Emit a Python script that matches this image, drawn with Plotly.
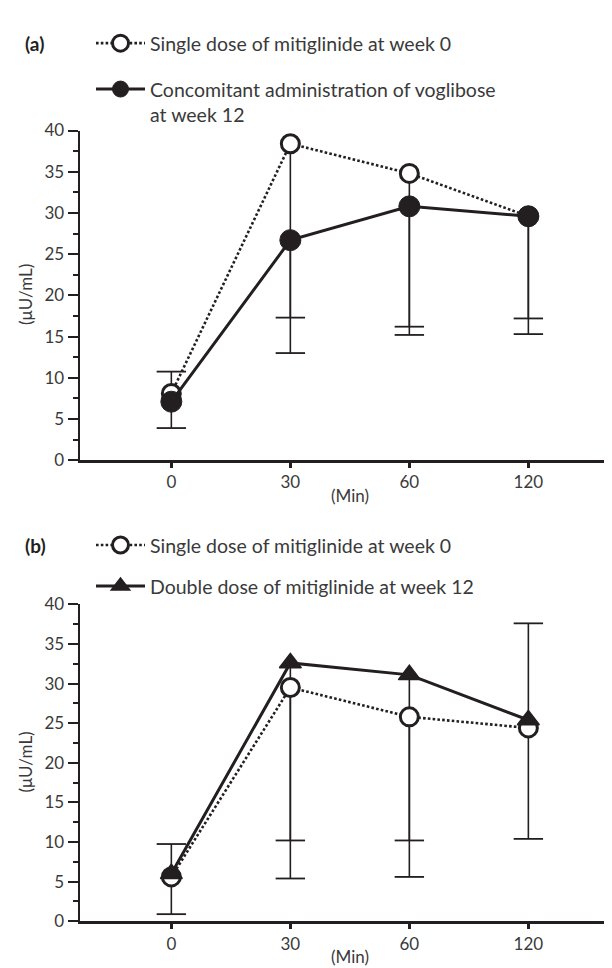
import plotly.graph_objects as go

# ---------------- data ----------------
times = ["0", "30", "60", "120"]

# Panel (a)
a_week0 = [8.1, 38.4, 34.8, 29.6]
a_week0_err_up = [2.65, 0, 0, 0]
a_week0_err_down = [0, 25.4, 19.6, 14.3]
a_vog = [7.1, 26.7, 30.8, 29.6]
a_vog_err_up = [0, 0, 0, 0]
a_vog_err_down = [3.2, 9.4, 14.6, 12.4]

# Panel (b)
b_week0 = [5.6, 29.5, 25.8, 24.4]
b_week0_err_up = [0, 0, 0, 0]
b_week0_err_down = [4.7, 19.3, 15.6, 14.0]
b_double = [6.0, 32.6, 31.1, 25.4]
b_double_err_up = [3.75, 0, 0, 12.2]
b_double_err_down = [0, 27.2, 25.5, 0]

y_tickvals = [0, 5, 10, 15, 20, 25, 30, 35, 40]

name_week0 = "Single dose of mitiglinide at week 0"
name_vog = "Concomitant administration of voglibose<br>at week 12"
name_double = "Double dose of mitiglinide at week 12"

# ---------------- style ----------------
INK = "#231f20"
TXT = "#3a3a3a"
FONT = "Lato"
W, H = 612, 968

fig = go.Figure()


def px_x(p):
    return p / W


def px_y(p):
    return 1 - p / H


def add_errors(vals, up, down, xa, ya):
    fig.add_trace(go.Scatter(
        x=times, y=vals, mode="markers", xaxis=xa, yaxis=ya,
        marker=dict(size=2, opacity=0), showlegend=False, hoverinfo="skip",
        cliponaxis=False,
        error_y=dict(type="data", symmetric=False, array=up, arrayminus=down,
                     width=0, thickness=1.6, color=INK)))
    cx, cy = [], []
    for t, v, u, d in zip(times, vals, up, down):
        if d > 0:
            cx.append(t)
            cy.append(v - d)
        if u > 0:
            cx.append(t)
            cy.append(v + u)
    fig.add_trace(go.Scatter(
        x=cx, y=cy, mode="markers", xaxis=xa, yaxis=ya, showlegend=False,
        hoverinfo="skip", cliponaxis=False,
        marker=dict(symbol="line-ew", size=21, line=dict(width=1.8, color=INK))))


# error bars first (beneath all markers)
add_errors(a_week0, a_week0_err_up, a_week0_err_down, "x", "y")
add_errors(a_vog, a_vog_err_up, a_vog_err_down, "x", "y")
add_errors(b_week0, b_week0_err_up, b_week0_err_down, "x2", "y2")
add_errors(b_double, b_double_err_up, b_double_err_down, "x2", "y2")

open_marker = dict(symbol="circle", size=18, color="white", line=dict(width=3, color=INK))
dot_line = dict(color=INK, width=2.6, dash="2.6px,2.2px")

# panel a series
fig.add_trace(go.Scatter(x=times, y=a_week0, mode="lines+markers", name=name_week0,
                         line=dot_line, marker=open_marker, cliponaxis=False,
                         xaxis="x", yaxis="y", legend="legend"))
fig.add_trace(go.Scatter(x=times, y=a_vog, mode="lines+markers", name=name_vog,
                         line=dict(color=INK, width=3),
                         marker=dict(symbol="circle", size=21, color=INK,
                                     line=dict(width=1, color=INK)),
                         cliponaxis=False, xaxis="x", yaxis="y", legend="legend2"))
# panel b series
fig.add_trace(go.Scatter(x=times, y=b_week0, mode="lines+markers", name=name_week0,
                         line=dot_line, marker=open_marker, cliponaxis=False,
                         xaxis="x2", yaxis="y2", legend="legend3"))
fig.add_trace(go.Scatter(x=times, y=b_double, mode="lines+markers", name=name_double,
                         line=dict(color=INK, width=3),
                         marker=dict(symbol="triangle-up", size=19, color=INK,
                                     line=dict(width=1.5, color=INK)),
                         cliponaxis=False, xaxis="x2", yaxis="y2", legend="legend4"))

xdom = [px_x(71.7), 1.0]
common_x = dict(type="category", range=[-0.77, 3.77], showline=True, linewidth=2.7,
                linecolor=INK, ticks="outside", ticklen=5, tickwidth=2.5, tickcolor=INK,
                showgrid=False, zeroline=False, tickfont=dict(family=FONT, size=17, color=TXT),
                domain=xdom, fixedrange=True)
common_y = dict(range=[0, 40], tickvals=y_tickvals, showline=True, linewidth=2.2,
                linecolor=INK, ticks="outside", ticklen=10, tickwidth=2, tickcolor=INK,
                minor=dict(dtick=2.5, ticks="outside", ticklen=5, tickwidth=2, tickcolor=INK,
                           showgrid=False),
                showgrid=False, zeroline=False, tickfont=dict(family=FONT, size=17, color=TXT),
                fixedrange=True)

legend_common = dict(bgcolor="rgba(0,0,0,0)", borderwidth=0, itemwidth=49,
                     font=dict(family=FONT, size=19.5, color=TXT), xanchor="left",
                     itemclick=False, itemdoubleclick=False)

fig.update_layout(
    width=W, height=H, margin=dict(l=0, r=0, t=0, b=0),
    paper_bgcolor="white", plot_bgcolor="white",
    xaxis=dict(common_x, anchor="y"),
    yaxis=dict(common_y, domain=[px_y(451), px_y(114)], anchor="x"),
    xaxis2=dict(common_x, anchor="y2"),
    yaxis2=dict(common_y, domain=[px_y(922.3), px_y(598.3)], anchor="x2"),
    legend=dict(legend_common, x=px_x(83), y=px_y(25), yanchor="middle"),
    legend2=dict(legend_common, x=px_x(83), y=px_y(52), yanchor="top", valign="top"),
    legend3=dict(legend_common, x=px_x(83), y=px_y(538), yanchor="middle"),
    legend4=dict(legend_common, x=px_x(83), y=px_y(580), yanchor="middle"),
    annotations=[
        dict(text="<b>(a)</b>", x=px_x(15), y=px_y(25), xref="paper", yref="paper",
             xanchor="left", yanchor="middle", showarrow=False,
             font=dict(family=FONT, size=19, color=INK)),
        dict(text="<b>(b)</b>", x=px_x(15), y=px_y(538), xref="paper", yref="paper",
             xanchor="left", yanchor="middle", showarrow=False,
             font=dict(family=FONT, size=19, color=INK)),
        dict(text="(Min)", x=px_x(342), y=px_y(487), xref="paper", yref="paper",
             xanchor="center", yanchor="middle", showarrow=False,
             font=dict(family=FONT, size=17, color=TXT)),
        dict(text="(Min)", x=px_x(342), y=px_y(958), xref="paper", yref="paper",
             xanchor="center", yanchor="middle", showarrow=False,
             font=dict(family=FONT, size=17, color=TXT)),
        dict(text="(μU/mL)", x=px_x(18), y=px_y(282), xref="paper", yref="paper",
             textangle=-90, xanchor="center", yanchor="middle", showarrow=False,
             font=dict(family=FONT, size=17, color=TXT)),
        dict(text="(μU/mL)", x=px_x(18), y=px_y(760), xref="paper", yref="paper",
             textangle=-90, xanchor="center", yanchor="middle", showarrow=False,
             font=dict(family=FONT, size=17, color=TXT)),
        dict(text="*", x=times[1], y=a_vog[1], xref="x", yref="y", xshift=17, yshift=20,
             showarrow=False, font=dict(family=FONT, size=18, color="#555555")),
    ],
)

fig.write_html("out.html")
